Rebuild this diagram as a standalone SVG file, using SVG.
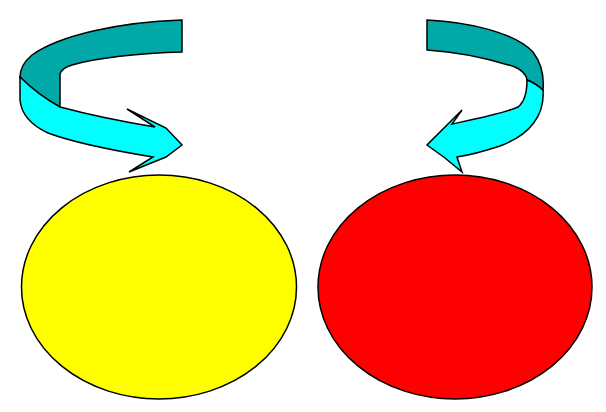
<svg xmlns="http://www.w3.org/2000/svg" width="606" height="412" viewBox="0 0 606 412">
<style>
.o{stroke:#000;stroke-width:1.5;stroke-linejoin:miter}
.dk{fill:#00A8A8}
.lt{fill:#00FFFF}
</style>
<rect width="606" height="412" fill="#fff"/>
<g id="yellow-circle"><ellipse cx="159" cy="287" rx="137.5" ry="112" fill="#FFFF00" class="o"/></g>
<g id="red-circle"><ellipse cx="455" cy="287" rx="137" ry="112" fill="#FF0000" class="o"/></g>
<g id="connectors">
<g id="left-arrow">
<path class="o dk" d="M182,20 C120,22 60,35 32,55 Q20,65 20,77 Q38,95 60,107 L60,74 Q62,68 72,65 C95,58 140,53 182,52 Z"/>
<path class="o lt" d="M20,77 Q38,95 60,107 C90,115 125,122 155,127 L127,109 L166,128 L182,145 L166,157 L129,172 L153,157 C110,150 75,143 48,133 Q22,121 20,100 Z"/>
</g>
<g id="right-arrow">
<path class="o dk" d="M427,20 C470,22 515,33 533,52 Q545,68 543,90 Q535,83 527,80 Q526,72 515,67 C490,59 460,52 427,50 Z"/>
<path class="o lt" d="M543,90 C545,115 530,135 500,146 C485,151 470,155 457,157 L462,172 L445,158 L427,145 L446,126 L462,110 L452,124 C480,118 505,113 518,107 Q527,100 527,80 Q535,83 543,90 Z"/>
</g>
</g>
</svg>
